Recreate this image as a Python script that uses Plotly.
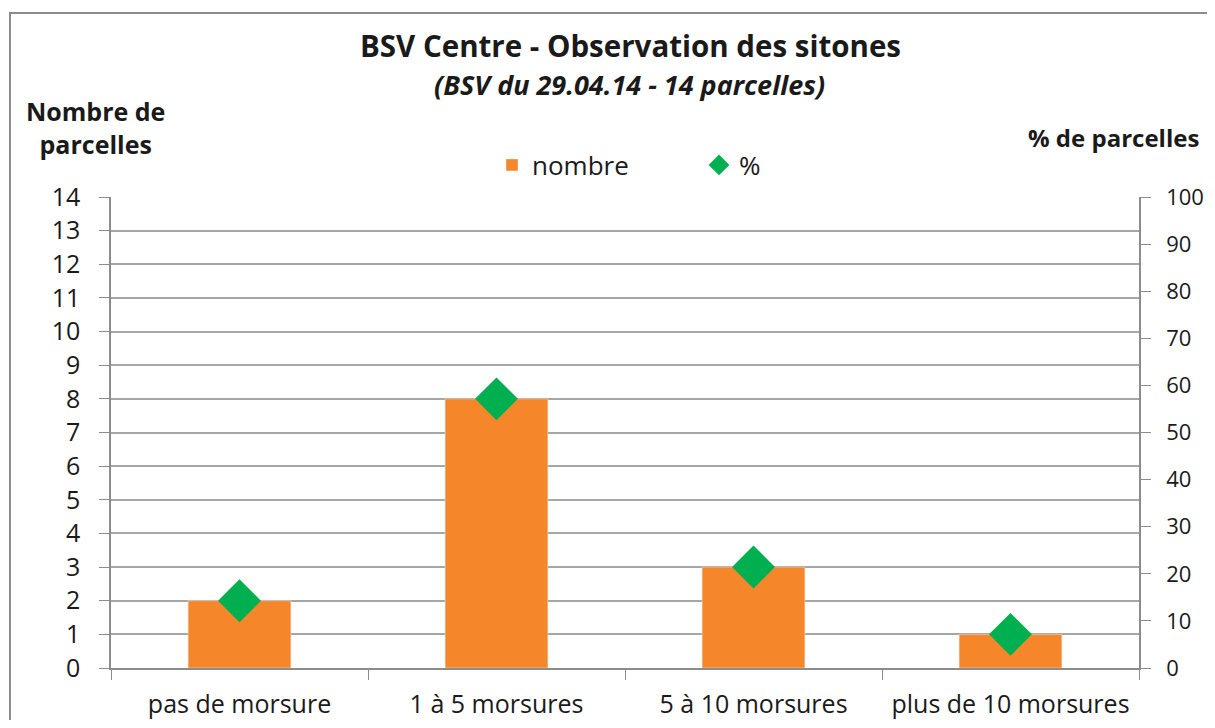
import plotly.graph_objects as go

categories = ["pas de morsure", "1 à 5 morsures", "5 à 10 morsures", "plus de 10 morsures"]
nombre = [2, 8, 3, 1]
pourcent = [14.29, 57.14, 21.43, 7.14]
left_ticks = list(range(0, 15))
right_ticks = list(range(0, 101, 10))

FONT = "Open Sans"
TXT = "#1a1a1a"

# figure is drawn in a page with 8px body margin -> work in figure coords
W, H = 1199, 712
L, T, R, B = 103, 189, 68, 52
PW, PH = W - L - R, H - T - B


def px(xf):
    return (xf - L) / PW


def py(yf):
    return (H - B - yf) / PH


fig = go.Figure()
fig.add_trace(go.Bar(x=categories, y=nombre, name="nombre", marker_color="#F5862A",
                     yaxis="y"))
fig.add_trace(go.Scatter(x=categories, y=pourcent, name="%", mode="markers",
                         marker=dict(symbol="diamond", size=33, color="#00B050"),
                         yaxis="y2"))

axcol = "#8C8C8C"
fig.update_layout(
    width=W, height=H,
    margin=dict(l=L, r=R, t=T, b=B, autoexpand=False),
    paper_bgcolor="white", plot_bgcolor="white",
    font=dict(family=FONT, size=25, color=TXT),
    bargap=0.6,
    showlegend=True,
    legend=dict(orientation="h", x=px(506 - 8 - 14), xanchor="left", y=py(157), yanchor="middle",
                font=dict(size=26), itemwidth=30,
                entrywidthmode="pixels", entrywidth=162),
    xaxis=dict(showline=True, linecolor=axcol, linewidth=1.5, automargin=False,
               ticks="outside", tickson="boundaries", ticklen=10, tickcolor=axcol,
               tickfont=dict(size=25), showgrid=False, ticklabelstandoff=13),
    yaxis=dict(range=[0, 14], tickvals=left_ticks, showline=True, linecolor=axcol,
               linewidth=1.5, ticks="outside", ticklen=10, tickcolor=axcol, automargin=False,
               showgrid=True, gridcolor="#A6A6A6", gridwidth=1.5, zeroline=False,
               tickfont=dict(size=25), ticklabelstandoff=14),
    yaxis2=dict(range=[0, 100], tickvals=right_ticks, overlaying="y", side="right",
                showline=True, linecolor=axcol, linewidth=1.5, ticks="outside",
                ticklen=10, tickcolor=axcol, showgrid=False, zeroline=False, automargin=False,
                tickfont=dict(size=22), ticklabelstandoff=11),
    shapes=[dict(type="rect", xref="paper", yref="paper",
                 x0=px(2), x1=px(W + 50), y0=py(H + 50), y1=py(5),
                 line=dict(color=axcol, width=2), fillcolor="rgba(0,0,0,0)")],
    annotations=[
        dict(text="<b>BSV Centre - Observation des sitones</b>", xref="paper", yref="paper",
             x=px(622), y=py(37), xanchor="center", yanchor="middle",
             showarrow=False, font=dict(size=29.5)),
        dict(text="<b><i>(BSV du 29.04.14 - 14 parcelles)</i></b>", xref="paper", yref="paper",
             x=px(621), y=py(76), xanchor="center", yanchor="middle",
             showarrow=False, font=dict(size=27)),
        dict(text="<b>Nombre de<br>parcelles</b>", xref="paper", yref="paper",
             x=px(87), y=py(119), xanchor="center", yanchor="middle",
             showarrow=False, font=dict(size=25), align="center"),
        dict(text="<b>% de parcelles</b>", xref="paper", yref="paper",
             x=px(1105), y=py(129), xanchor="center", yanchor="middle",
             showarrow=False, font=dict(size=24)),
    ],
)

fig.write_html("out.html")
